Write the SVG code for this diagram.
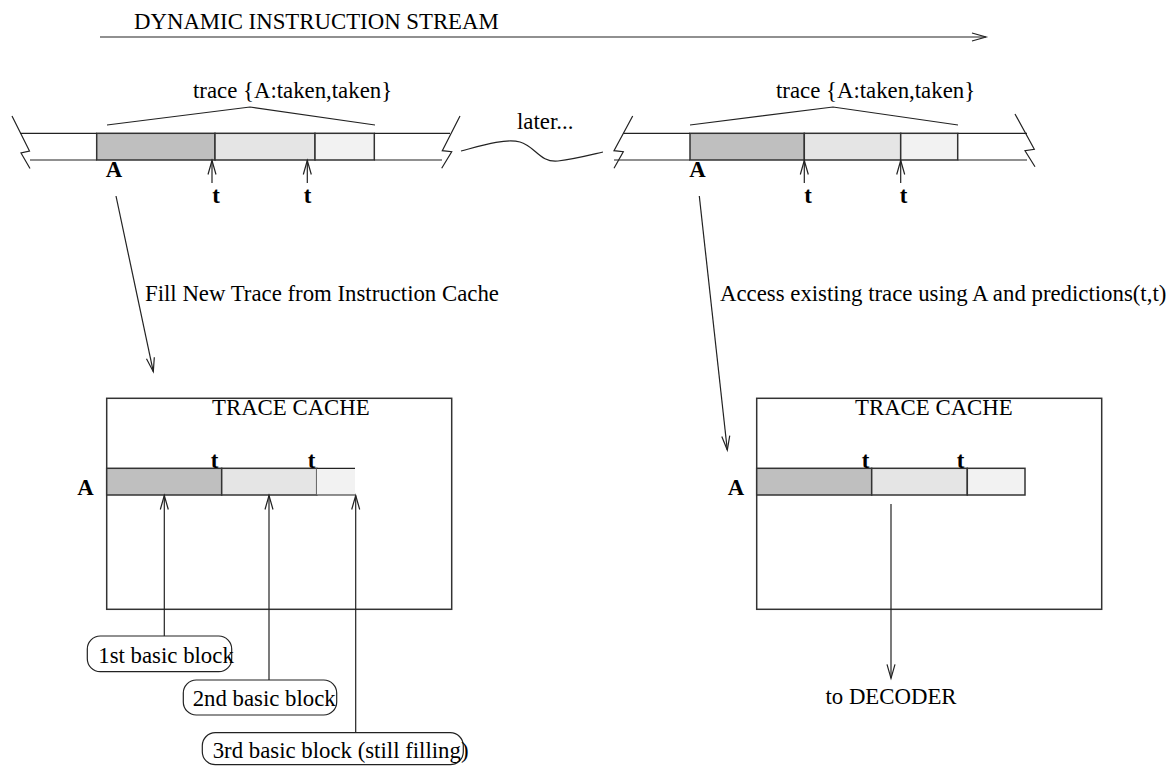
<svg xmlns="http://www.w3.org/2000/svg" width="1172" height="766" viewBox="0 0 1172 766">
<style>
text{font-family:"Liberation Serif","Times New Roman",serif;font-size:22.8px;fill:#000}
.b{font-weight:bold}
.ln{fill:none;stroke:#222;stroke-width:1.2}
.bar{stroke:#333;stroke-width:1.5}
.d{fill:#bfbfbf}.l{fill:#e5e5e5}.x{fill:#f2f2f2}
.box{fill:#fff;stroke:#333;stroke-width:1.5}
.bub{fill:#fff;stroke:#222;stroke-width:1.2}
</style>
<defs>
<marker id="ah" markerUnits="userSpaceOnUse" markerWidth="20" markerHeight="12" viewBox="-16 -6 20 12" refX="0" refY="0" orient="auto">
<path d="M-14,-4 L0,0 L-14,4" fill="none" stroke="#222" stroke-width="1.2"/>
</marker>
</defs>

<g id="stream">
<text x="134" y="29">DYNAMIC INSTRUCTION STREAM</text>
<line class="ln" x1="100" y1="37" x2="986" y2="37" marker-end="url(#ah)"/>
</g>

<g id="band-left">
<text x="193" y="98">trace {A:taken,taken}</text>
<polyline class="ln" points="107,125 250,107 375,125"/>
<rect class="d bar" x="96.7" y="133.3" width="118.3" height="26.7"/>
<rect class="l bar" x="215" y="133.3" width="100" height="26.7"/>
<rect class="x bar" x="315" y="133.3" width="59.3" height="26.7"/>
<line class="ln" x1="20" y1="133.3" x2="96.7" y2="133.3"/>
<line class="ln" x1="30" y1="160" x2="96.7" y2="160"/>
<line class="ln" x1="374.3" y1="133.3" x2="450" y2="133.3"/>
<line class="ln" x1="374.3" y1="160" x2="442" y2="160"/>
<polyline class="ln" points="12,116 29.5,151 21,153 30,168.5"/>
<polyline class="ln" points="460,116 442.3,150.7 451.7,151.7 441.7,168.3"/>
<text class="b" x="114" y="177" text-anchor="middle">A</text>
<text class="b" x="216" y="203" text-anchor="middle">t</text>
<text class="b" x="307.5" y="203" text-anchor="middle">t</text>
</g>

<g id="later">
<text x="517" y="129">later...</text>
</g>

<g id="band-right">
<text x="776" y="98">trace {A:taken,taken}</text>
<polyline class="ln" points="690,125 833,107 958,125"/>
<rect class="d bar" x="690" y="133.3" width="114.3" height="26.7"/>
<rect class="l bar" x="804.3" y="133.3" width="96.4" height="26.7"/>
<rect class="x bar" x="900.7" y="133.3" width="57" height="26.7"/>
<line class="ln" x1="623.3" y1="133.3" x2="690" y2="133.3"/>
<line class="ln" x1="614" y1="160" x2="690" y2="160"/>
<line class="ln" x1="957.7" y1="133.3" x2="1027" y2="133.3"/>
<line class="ln" x1="957.7" y1="160" x2="1027" y2="160"/>
<polyline class="ln" points="632.7,116 614,150.7 623.3,151.7 614,168.3"/>
<polyline class="ln" points="1015,114 1034.3,149.3 1025,150.7 1035,166.7"/>
<text class="b" x="697.5" y="177" text-anchor="middle">A</text>
<text class="b" x="808" y="203" text-anchor="middle">t</text>
<text class="b" x="903.5" y="203" text-anchor="middle">t</text>
</g>

<g id="cache-left">
<rect class="box" x="106.7" y="398.3" width="345" height="211"/>
<text x="212" y="415">TRACE CACHE</text>
<rect class="d bar" x="106.7" y="468.3" width="115" height="26.7"/>
<rect class="l bar" x="221.7" y="468.3" width="95" height="26.7"/>
<rect class="x" x="316.7" y="468.3" width="38.3" height="26.7"/>
<polyline class="ln" points="316.7,468.3 355,468.3"/>
<polyline class="ln" points="316.7,495 355,495"/>
<text class="b" x="85.5" y="495" text-anchor="middle">A</text>
<text class="b" x="214.5" y="468" text-anchor="middle">t</text>
<text class="b" x="311.5" y="468" text-anchor="middle">t</text>
</g>

<g id="cache-right">
<rect class="box" x="756.7" y="398.3" width="345" height="211"/>
<text x="855" y="415">TRACE CACHE</text>
<rect class="d bar" x="756.7" y="468.3" width="115" height="26.7"/>
<rect class="l bar" x="871.7" y="468.3" width="95.6" height="26.7"/>
<rect class="x bar" x="967.3" y="468.3" width="57.7" height="26.7"/>
<text class="b" x="736" y="495" text-anchor="middle">A</text>
<text class="b" x="865.5" y="468" text-anchor="middle">t</text>
<text class="b" x="960.5" y="468" text-anchor="middle">t</text>
</g>

<g id="bubble-1">
<rect class="bub" x="87.3" y="636" width="144.4" height="35.7" rx="13"/>
<text x="98.3" y="662.7">1st basic block</text>
</g>
<g id="bubble-2">
<rect class="bub" x="183.3" y="680" width="153.4" height="35" rx="13"/>
<text x="192.7" y="706">2nd basic block</text>
</g>
<g id="bubble-3">
<rect class="bub" x="202.3" y="732.7" width="261" height="32" rx="13"/>
<text x="212.7" y="758">3rd basic block (still filling)</text>
</g>

<g id="decoder">
<text x="891" y="704" text-anchor="middle">to DECODER</text>
</g>

<g id="connectors">
<line class="ln" x1="212" y1="183" x2="212" y2="160.5" marker-end="url(#ah)"/>
<line class="ln" x1="307.3" y1="183" x2="307.3" y2="160.5" marker-end="url(#ah)"/>
<line class="ln" x1="804.3" y1="183" x2="804.3" y2="160.5" marker-end="url(#ah)"/>
<line class="ln" x1="900.7" y1="183" x2="900.7" y2="160.5" marker-end="url(#ah)"/>
<path class="ln" d="M461,151 C480,146 505,138 520,142 C535,146 540,163 558,161 C575,159 590,155 603,152"/>
<line class="ln" x1="116" y1="196" x2="153.3" y2="371.7" marker-end="url(#ah)"/>
<text x="145" y="300.7">Fill New Trace from Instruction Cache</text>
<line class="ln" x1="699.3" y1="196" x2="727.3" y2="450" marker-end="url(#ah)"/>
<text x="720" y="300.7">Access existing trace using A and predictions(t,t)</text>
<line class="ln" x1="164.3" y1="636" x2="164.3" y2="495.5" marker-end="url(#ah)"/>
<line class="ln" x1="269" y1="680" x2="269" y2="495.5" marker-end="url(#ah)"/>
<line class="ln" x1="355.7" y1="732.7" x2="355.7" y2="495.5" marker-end="url(#ah)"/>
<line class="ln" x1="891" y1="504" x2="891" y2="678.3" marker-end="url(#ah)"/>
</g>
</svg>
